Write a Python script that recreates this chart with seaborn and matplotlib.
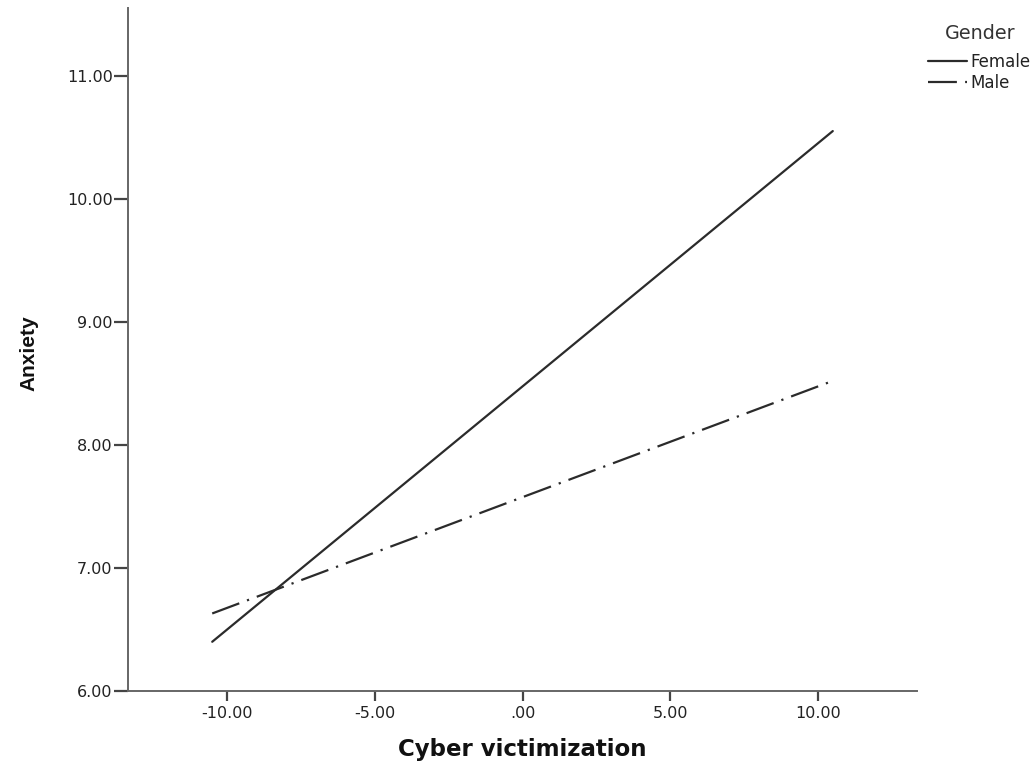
import matplotlib
matplotlib.use("Agg")
import matplotlib.pyplot as plt
import seaborn as sns
import pandas as pd

# Data
x_points = [-10.5, 10.5]
female_vals = [6.40, 10.55]
male_vals = [6.63, 8.52]
genders = ["Female", "Male"]
x_ticks = [-10, -5, 0, 5, 10]
x_tick_labels = ["-10.00", "-5.00", ".00", "5.00", "10.00"]
y_ticks = [6, 7, 8, 9, 10, 11]
y_tick_labels = ["6.00", "7.00", "8.00", "9.00", "10.00", "11.00"]

df = pd.DataFrame({
    "Cyber victimization": x_points + x_points,
    "Anxiety": female_vals + male_vals,
    "Gender": ["Female"] * len(x_points) + ["Male"] * len(x_points),
})

sns.set_style("white")
plt.rcParams['font.family'] = ['DejaVu Sans']

fig = plt.figure(figsize=(10.34, 7.63), dpi=100)
ax = fig.add_axes([128/1034, 72/763, (917-128)/1034, (691-8)/763])

line_col = "#2b2b2b"
sns.lineplot(data=df, x="Cyber victimization", y="Anxiety", hue="Gender",
             style="Gender", hue_order=genders, style_order=genders,
             palette=[line_col, line_col],
             dashes={"Female": "", "Male": (13, 3.7, 1, 3.7)},
             linewidth=1.6, ax=ax, legend=True)

ax.set_xlim(-13.35, 13.35)
ax.set_ylim(6.0, 11.55)
ax.set_xticks(x_ticks)
ax.set_xticklabels(x_tick_labels)
ax.set_yticks(y_ticks)
ax.set_yticklabels(y_tick_labels)

for s in ["top", "right"]:
    ax.spines[s].set_visible(False)
for s in ["left", "bottom"]:
    ax.spines[s].set_color("#666666")
    ax.spines[s].set_linewidth(1.4)

ax.tick_params(axis="both", which="major", direction="out",
               width=1.6, color="#444444", labelsize=11.5, labelcolor="#222222",
               left=True, bottom=True)
ax.tick_params(axis="y", length=10, pad=1)
ax.tick_params(axis="x", length=7, pad=4)

ax.set_xlabel("Cyber victimization", fontsize=16.5, fontweight="bold",
              color="#111111")
ax.xaxis.set_label_coords(0.5, (691 - 738) / 683)
ax.set_ylabel("Anxiety", fontsize=15, fontweight="bold", color="#111111",
              family=['Liberation Sans Narrow', 'Liberation Sans', 'DejaVu Sans'])
ax.yaxis.set_label_coords((38 - 128) / 789, 0.495)

leg = ax.legend(title="Gender", loc="upper right",
                bbox_to_anchor=(1031/1034, (763-24)/763),
                bbox_transform=fig.transFigure,
                frameon=False, fontsize=12, title_fontsize=13.8,
                handlelength=2.3, handletextpad=0.25, labelspacing=0.2,
                borderaxespad=0.0, borderpad=0.0)
leg._legend_box.sep = 7
for t in leg.get_texts():
    t.set_color("#222222")
leg.get_title().set_color("#333333")

fig.savefig("out.png", dpi=100)
